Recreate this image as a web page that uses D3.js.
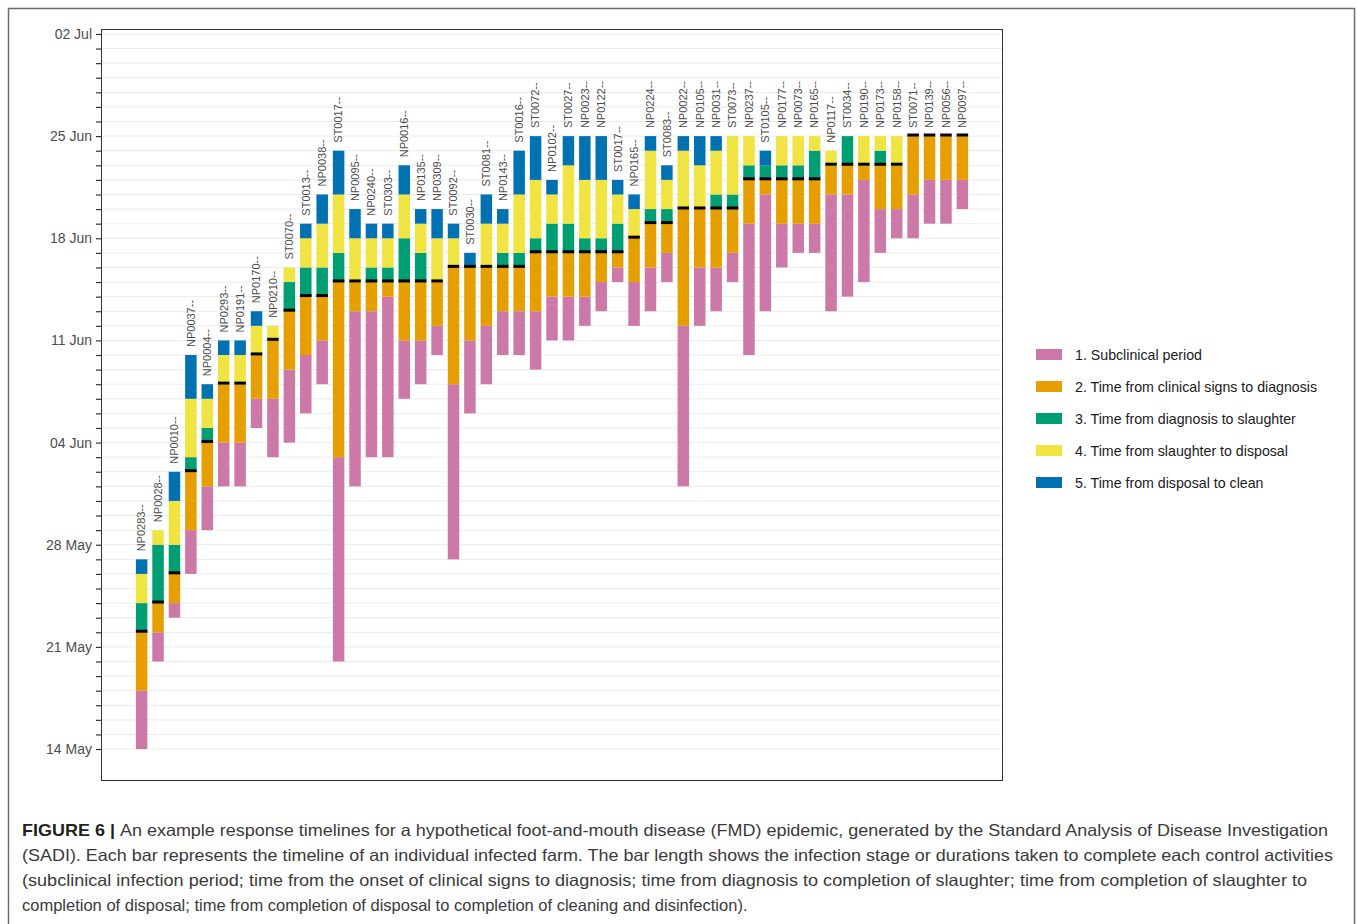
<!DOCTYPE html>
<html>
<head>
<meta charset="utf-8">
<script src="https://cdn.jsdelivr.net/npm/d3@7/dist/d3.min.js"></script>
<style>
  body { margin: 0; background: #fff; }
  svg { display: block; font-family: "Liberation Sans", Arial, sans-serif; }
</style>
</head>
<body>
<div id="chart"></div>
<script>
// farm ids, in plotting order
var farms = ["NP0283--", "NP0028--", "NP0010--", "NP0037--", "NP0004--", "NP0293--", "NP0191--",
  "NP0170--", "NP0210--", "ST0070--", "ST0013--", "NP0038--", "ST0017--", "NP0095--", "NP0240--",
  "ST0303--", "NP0016--", "NP0135--", "NP0309--", "ST0092--", "ST0030--", "ST0081--", "NP0143--",
  "ST0016--", "ST0072--", "NP0102--", "ST0027--", "NP0023--", "NP0122--", "ST0017--", "NP0165--",
  "NP0224--", "ST0083--", "NP0022--", "NP0105--", "NP0031--", "ST0073--", "NP0237--", "ST0105--",
  "NP0177--", "NP0073--", "NP0165--", "NP0117--", "ST0034--", "NP0190--", "NP0173--", "NP0158--",
  "ST0071--", "NP0139--", "NP0056--", "NP0097--"];

// event dates, as days after 14 May
var infected    = [0, 6, 9, 12, 15, 18, 18, 22, 20, 21, 23, 25, 6, 18, 20, 20, 24, 25, 27, 13, 23, 25, 27, 27, 26, 28,
  28, 29, 30, 32, 29, 30, 32, 18, 29, 30, 32, 27, 30, 33, 34, 34, 30, 31, 32, 34, 35, 35, 36, 36, 37];
var clinical    = [4, 8, 10, 15, 18, 21, 21, 24, 24, 26, 27, 28, 20, 30, 30, 31, 28, 28, 29, 25, 28, 29, 30, 30, 30, 31,
  31, 31, 32, 33, 32, 33, 34, 29, 33, 33, 34, 36, 38, 36, 36, 36, 38, 38, 39, 37, 37, 38, 39, 39, 39];
var diagnosed   = [8, 10, 12, 19, 21, 25, 25, 27, 28, 30, 31, 31, 32, 32, 32, 32, 32, 32, 32, 33, 33, 33, 33, 33, 34, 34,
  34, 34, 34, 34, 35, 36, 36, 37, 37, 37, 37, 39, 39, 39, 39, 39, 40, 40, 40, 40, 40, 42, 42, 42, 42];
var slaughtered = [10, 14, 14, 20, 22, 25, 25, 27, 28, 32, 33, 33, 34, 32, 33, 33, 35, 34, 32, 33, 33, 33, 34, 34, 35, 36,
  36, 35, 35, 36, 35, 37, 37, 37, 37, 38, 38, 40, 40, 40, 40, 41, 40, 42, 40, 41, 40, 42, 42, 42, 42];
var disposed    = [12, 15, 17, 24, 24, 27, 27, 29, 29, 33, 35, 36, 38, 35, 35, 35, 38, 36, 35, 35, 33, 36, 36, 38, 39, 38,
  40, 39, 39, 38, 37, 41, 39, 41, 40, 41, 42, 42, 40, 42, 42, 42, 41, 42, 42, 42, 42, 42, 42, 42, 42];
var cleaned     = [13, 15, 19, 27, 25, 28, 28, 30, 29, 33, 36, 38, 41, 37, 36, 36, 40, 37, 37, 36, 34, 38, 37, 41, 42, 39,
  42, 42, 42, 39, 38, 42, 40, 42, 42, 42, 42, 42, 41, 42, 42, 42, 41, 42, 42, 42, 42, 42, 42, 42, 42];

var stageNames = ["1. Subclinical period", "2. Time from clinical signs to diagnosis",
  "3. Time from diagnosis to slaughter", "4. Time from slaughter to disposal", "5. Time from disposal to clean"];
var stageColors = ["#CC79A7", "#E69F00", "#009E73", "#F0E442", "#0072B2"];

var tickDays = [0, 7, 14, 21, 28, 35, 42, 49];

var caption = [
  "An example response timelines for a hypothetical foot-and-mouth disease (FMD) epidemic, generated by the Standard Analysis of Disease Investigation",
  "(SADI). Each bar represents the timeline of an individual infected farm. The bar length shows the infection stage or durations taken to complete each control activities",
  "(subclinical infection period; time from the onset of clinical signs to diagnosis; time from diagnosis to completion of slaughter; time from completion of slaughter to",
  "completion of disposal; time from completion of disposal to completion of cleaning and disinfection)."
];

var svgWidth = 1357;
var svgHeight = 924;
var panel = { left: 101, top: 29, right: 1003, bottom: 781 };

var start = new Date(Date.UTC(2020, 4, 14));
function day(n) { return new Date(+start + n * 864e5); }

var svg = d3.select("#chart")
  .append("svg")
  .attr("width", svgWidth)
  .attr("height", svgHeight);

// outer figure frame
svg.append("rect")
  .attr("x", 8.5).attr("y", 8.5)
  .attr("width", 1346).attr("height", 930)
  .attr("fill", "none")
  .attr("stroke", "#6b6b6b")
  .attr("stroke-width", 1.5);

var x = d3.scaleBand()
  .domain(d3.range(farms.length))
  .range([panel.left, panel.right])
  .paddingInner(0.3)
  .paddingOuter(2.125);

var y = d3.scaleUtc()
  .domain([day(-2.19), day(49.34)])
  .range([panel.bottom, panel.top]);

// daily grid lines
var allDays = d3.range(0, 50).map(day);
svg.append("g")
  .selectAll("line")
  .data(allDays)
  .enter()
  .append("line")
  .attr("x1", panel.left).attr("x2", panel.right)
  .attr("y1", d => y(d)).attr("y2", d => y(d))
  .attr("stroke", "#ebebeb")
  .attr("stroke-width", 1);

// stacked stage segments
var segments = [];
farms.forEach(function(f, i) {
  var pts = [infected[i], clinical[i], diagnosed[i], slaughtered[i], disposed[i], cleaned[i]];
  for (var k = 0; k < 5; k++) {
    if (pts[k + 1] > pts[k]) {
      segments.push({ i: i, stage: k, from: pts[k], to: pts[k + 1] });
    }
  }
});

svg.append("g")
  .selectAll("rect")
  .data(segments)
  .enter()
  .append("rect")
  .attr("x", d => x(d.i))
  .attr("width", x.bandwidth())
  .attr("y", d => y(day(d.to)))
  .attr("height", d => y(day(d.from)) - y(day(d.to)))
  .attr("fill", d => stageColors[d.stage]);

// diagnosis markers
svg.append("g")
  .selectAll("rect")
  .data(diagnosed)
  .enter()
  .append("rect")
  .attr("x", (d, i) => x(i))
  .attr("width", x.bandwidth())
  .attr("y", d => y(day(d)) - 2.6)
  .attr("height", 3)
  .attr("fill", "#000");

// farm labels above bars
svg.append("g")
  .selectAll("text")
  .data(farms)
  .enter()
  .append("text")
  .attr("transform", (d, i) => `translate(${x(i) + x.bandwidth() / 2}, ${y(day(cleaned[i])) - 8}) rotate(-90)`)
  .attr("dy", "0.35em")
  .attr("font-size", "11px")
  .attr("fill", "#4d4d4d")
  .text(d => d);

// panel border
svg.append("rect")
  .attr("x", panel.left + 0.5).attr("y", panel.top + 0.5)
  .attr("width", panel.right - panel.left - 1)
  .attr("height", panel.bottom - panel.top - 1)
  .attr("fill", "none")
  .attr("stroke", "#333")
  .attr("stroke-width", 1);

// y axis: a tick every day, labels every week
var fmt = d3.utcFormat("%d %b");
var tickSet = tickDays.map(day).map(Number);
var leftAxis = d3.axisLeft(y)
  .tickValues(allDays)
  .tickSize(5)
  .tickPadding(4)
  .tickFormat(d => tickSet.indexOf(+d) >= 0 ? fmt(d) : "");
var yAxis = svg.append("g")
  .attr("transform", `translate(${panel.left}, 0)`)
  .call(leftAxis);
yAxis.select(".domain").remove();
yAxis.selectAll(".tick line").attr("stroke", "#333").attr("stroke-width", 1.2);
yAxis.selectAll(".tick text")
  .attr("font-size", "14px")
  .attr("font-family", "Liberation Sans, Arial, sans-serif")
  .attr("fill", "#4d4d4d");

// legend
var legend = svg.append("g")
  .attr("transform", "translate(1036, 355)");
var items = legend.selectAll("g")
  .data(stageNames)
  .enter()
  .append("g")
  .attr("transform", (d, i) => `translate(0, ${i * 32})`);
items.append("rect")
  .attr("x", 0).attr("y", -6)
  .attr("width", 26).attr("height", 11)
  .attr("fill", (d, i) => stageColors[i]);
items.append("text")
  .attr("x", 39).attr("y", 0)
  .attr("dy", "0.35em")
  .attr("font-size", "14.2px")
  .attr("fill", "#1a1a1a")
  .text(d => d);

// caption
var capWidths = [1306, 1311, 1285, null];
var cap = svg.append("g")
  .attr("font-size", "16.5px")
  .attr("fill", "#3a3a3a");
caption.forEach(function(line, i) {
  var t = cap.append("text")
    .attr("x", 22)
    .attr("y", 836 + i * 25);
  if (i === 0) {
    t.append("tspan")
      .attr("font-weight", "bold")
      .attr("fill", "#231f20")
      .text("FIGURE 6 | ");
  }
  t.append("tspan").text(line);
  if (capWidths[i]) {
    t.attr("textLength", capWidths[i]).attr("lengthAdjust", "spacingAndGlyphs");
  }
});
</script>
</body>
</html>
